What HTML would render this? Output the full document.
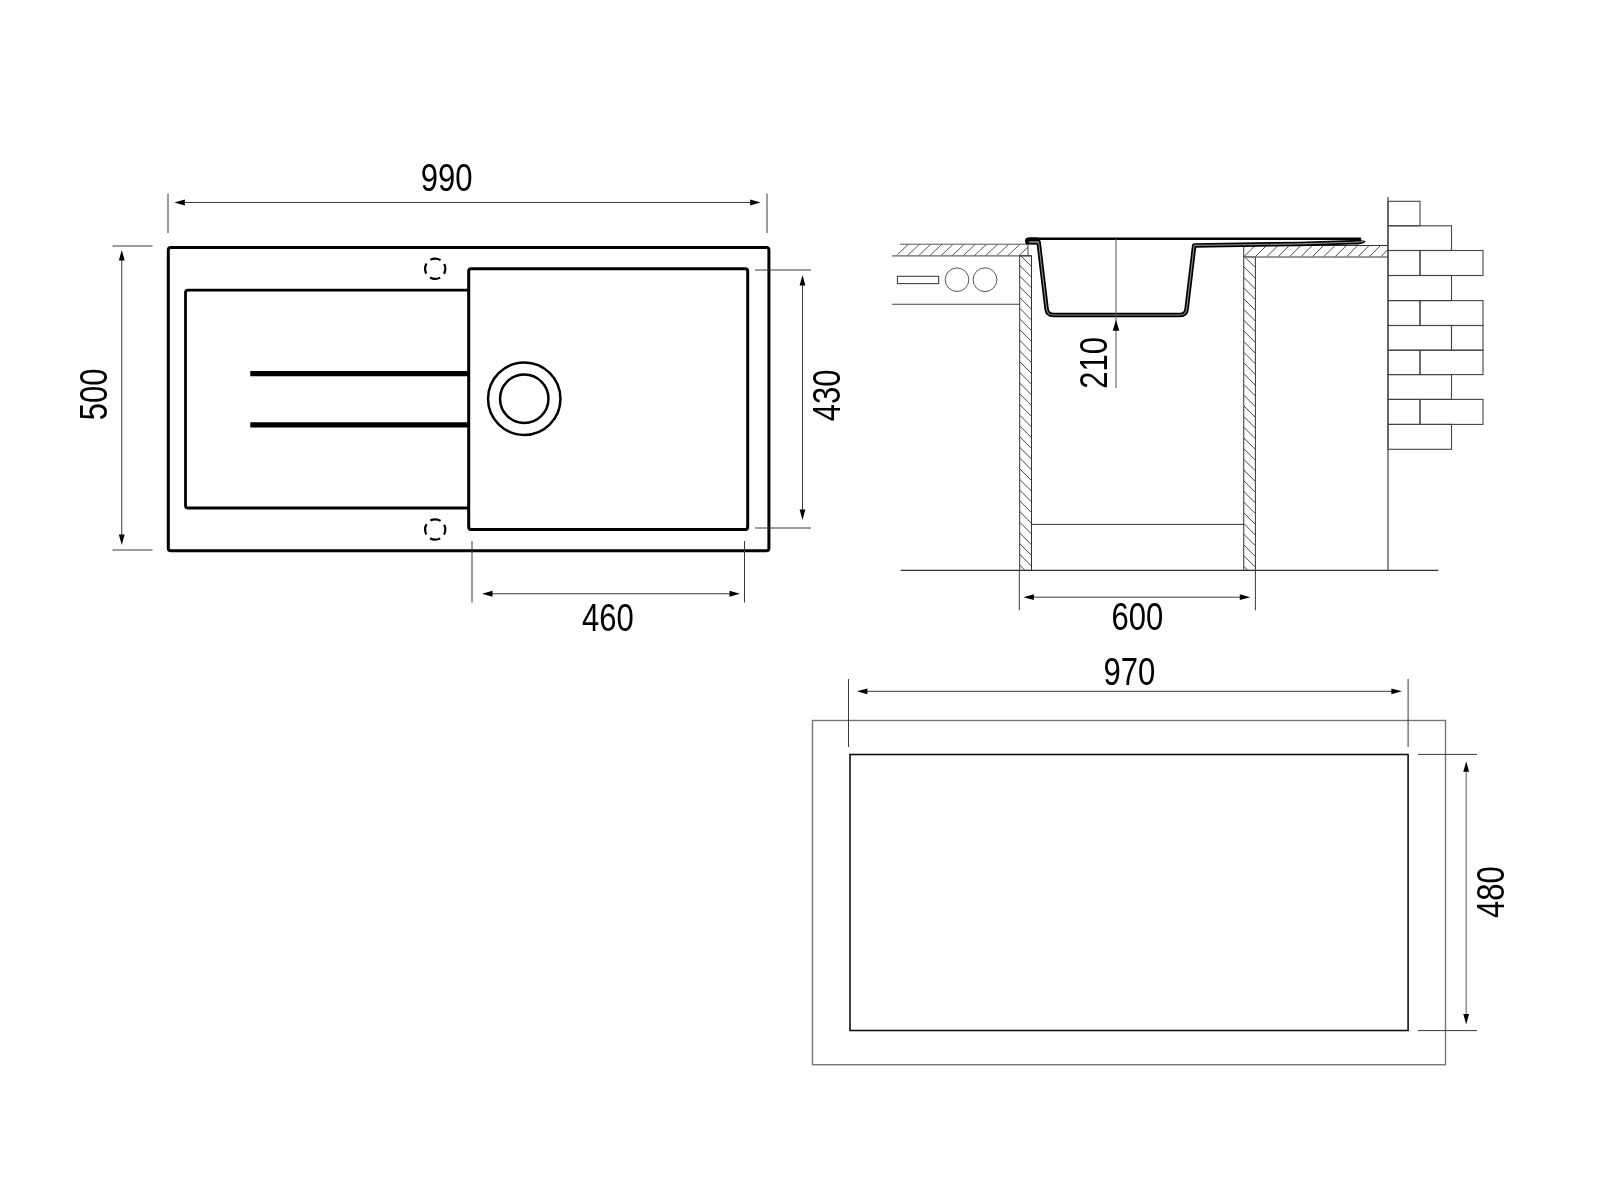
<!DOCTYPE html>
<html><head><meta charset="utf-8"><style>
html,body{margin:0;padding:0;background:#fff;}
svg{display:block;will-change:transform;}
.t{font-family:"Liberation Sans",sans-serif;font-size:38.6px;fill:#000;}
</style></head><body>
<svg width="1600" height="1200" viewBox="0 0 1600 1200">
<rect width="1600" height="1200" fill="#fff"/>
<rect x="168.3" y="247.6" width="600.6" height="303.1" rx="2.5" fill="none" stroke="#000" stroke-width="3"/>
<path d="M468.7,290.1 H188 Q185.5,290.1 185.5,292.6 V505.5 Q185.5,508 188,508 H468.7" fill="none" stroke="#000" stroke-width="2.8"/>
<rect x="468.7" y="268.8" width="279" height="260.8" rx="2.5" fill="none" stroke="#000" stroke-width="3"/>
<line x1="250.3" y1="373.6" x2="468" y2="373.6" stroke="#000" stroke-width="5.2"/>
<line x1="250.3" y1="424.9" x2="468" y2="424.9" stroke="#000" stroke-width="5.2"/>
<circle cx="524.25" cy="398.75" r="36.2" fill="none" stroke="#000" stroke-width="2.5"/>
<circle cx="524.25" cy="398.75" r="24.2" fill="none" stroke="#000" stroke-width="2.5"/>
<circle cx="435.2" cy="268.75" r="10.15" fill="none" stroke="#000" stroke-width="2.2" stroke-dasharray="10.629 5.315" stroke-dashoffset="5.315"/>
<circle cx="435.2" cy="529.5" r="10.15" fill="none" stroke="#000" stroke-width="2.2" stroke-dasharray="10.629 5.315" stroke-dashoffset="5.315"/>
<line x1="168" y1="193.5" x2="168" y2="233" stroke="#3a3a3a" stroke-width="1" />
<line x1="767" y1="193.5" x2="767" y2="233" stroke="#3a3a3a" stroke-width="1" />
<line x1="180" y1="202.5" x2="755" y2="202.5" stroke="#3a3a3a" stroke-width="1" />
<polygon points="174.40,202.50 184.90,199.60 184.90,205.40" fill="#000"/>
<polygon points="760.60,202.50 750.10,205.40 750.10,199.60" fill="#000"/>
<text transform="translate(446.6,191) scale(0.804,1)" text-anchor="middle" class="t">990</text>
<line x1="112.5" y1="246" x2="152.5" y2="246" stroke="#3a3a3a" stroke-width="1" />
<line x1="112.5" y1="550" x2="152.5" y2="550" stroke="#3a3a3a" stroke-width="1" />
<line x1="121.75" y1="258" x2="121.75" y2="537" stroke="#3a3a3a" stroke-width="1" />
<polygon points="121.75,250.00 124.65,260.50 118.85,260.50" fill="#000"/>
<polygon points="121.75,545.00 118.85,534.50 124.65,534.50" fill="#000"/>
<text transform="translate(106.7,394.4) rotate(-90) scale(0.804,1)" text-anchor="middle" class="t">500</text>
<line x1="755" y1="270" x2="811" y2="270" stroke="#3a3a3a" stroke-width="1" />
<line x1="755" y1="528" x2="811" y2="528" stroke="#3a3a3a" stroke-width="1" />
<line x1="802.5" y1="283" x2="802.5" y2="512" stroke="#3a3a3a" stroke-width="1" />
<polygon points="802.50,275.00 805.40,285.50 799.60,285.50" fill="#000"/>
<polygon points="802.50,520.00 799.60,509.50 805.40,509.50" fill="#000"/>
<text transform="translate(839.65,395.4) rotate(-90) scale(0.804,1)" text-anchor="middle" class="t">430</text>
<line x1="472" y1="541" x2="472" y2="602.5" stroke="#3a3a3a" stroke-width="1" />
<line x1="744.5" y1="541" x2="744.5" y2="602.5" stroke="#3a3a3a" stroke-width="1" />
<line x1="490" y1="593.75" x2="732" y2="593.75" stroke="#3a3a3a" stroke-width="1" />
<polygon points="482.00,593.75 492.50,590.85 492.50,596.65" fill="#000"/>
<polygon points="740.00,593.75 729.50,596.65 729.50,590.85" fill="#000"/>
<text transform="translate(608,631.25) scale(0.804,1)" text-anchor="middle" class="t">460</text>
<clipPath id="c33"><rect x="897.4" y="244.2" width="130.60000000000002" height="11.600000000000023"/></clipPath>
<path d="M851.54,255.8 L863.95,244.2 M862.69,255.8 L875.10,244.2 M873.84,255.8 L886.25,244.2 M884.99,255.8 L897.40,244.2 M896.14,255.8 L908.55,244.2 M907.29,255.8 L919.70,244.2 M918.44,255.8 L930.85,244.2 M929.59,255.8 L942.00,244.2 M940.74,255.8 L953.15,244.2 M951.89,255.8 L964.30,244.2 M963.04,255.8 L975.45,244.2 M974.19,255.8 L986.60,244.2 M985.34,255.8 L997.75,244.2 M996.49,255.8 L1008.90,244.2 M1007.64,255.8 L1020.05,244.2 M1018.79,255.8 L1031.20,244.2" stroke="#444" stroke-width="0.9" fill="none" clip-path="url(#c33)"/>
<line x1="900" y1="244.2" x2="1028" y2="244.2" stroke="#555" stroke-width="1.0" />
<line x1="892" y1="255.8" x2="1031.5" y2="255.8" stroke="#666" stroke-width="1.3" />
<line x1="1028" y1="244.2" x2="1028" y2="255.8" stroke="#333" stroke-width="0.9" />
<clipPath id="c38"><rect x="1019.7" y="255.8" width="11.799999999999955" height="314.59999999999997"/></clipPath>
<path d="M1019.7,211.90 L1031.5,223.70 M1019.7,222.60 L1031.5,234.40 M1019.7,233.30 L1031.5,245.10 M1019.7,244.00 L1031.5,255.80 M1019.7,254.70 L1031.5,266.50 M1019.7,265.40 L1031.5,277.20 M1019.7,276.10 L1031.5,287.90 M1019.7,286.80 L1031.5,298.60 M1019.7,297.50 L1031.5,309.30 M1019.7,308.20 L1031.5,320.00 M1019.7,318.90 L1031.5,330.70 M1019.7,329.60 L1031.5,341.40 M1019.7,340.30 L1031.5,352.10 M1019.7,351.00 L1031.5,362.80 M1019.7,361.70 L1031.5,373.50 M1019.7,372.40 L1031.5,384.20 M1019.7,383.10 L1031.5,394.90 M1019.7,393.80 L1031.5,405.60 M1019.7,404.50 L1031.5,416.30 M1019.7,415.20 L1031.5,427.00 M1019.7,425.90 L1031.5,437.70 M1019.7,436.60 L1031.5,448.40 M1019.7,447.30 L1031.5,459.10 M1019.7,458.00 L1031.5,469.80 M1019.7,468.70 L1031.5,480.50 M1019.7,479.40 L1031.5,491.20 M1019.7,490.10 L1031.5,501.90 M1019.7,500.80 L1031.5,512.60 M1019.7,511.50 L1031.5,523.30 M1019.7,522.20 L1031.5,534.00 M1019.7,532.90 L1031.5,544.70 M1019.7,543.60 L1031.5,555.40 M1019.7,554.30 L1031.5,566.10 M1019.7,565.00 L1031.5,576.80" stroke="#333" stroke-width="0.9" fill="none" clip-path="url(#c38)"/>
<rect x="1019.7" y="255.8" width="11.8" height="314.6" fill="none" stroke="#333" stroke-width="1"/>
<line x1="892" y1="304.25" x2="1019.7" y2="304.25" stroke="#444" stroke-width="1.2" />
<rect x="897.4" y="276.3" width="41.2" height="7.3" fill="none" stroke="#444" stroke-width="1.1"/>
<circle cx="957" cy="279.7" r="11.8" fill="none" stroke="#555" stroke-width="1"/>
<circle cx="985" cy="279.7" r="11.9" fill="none" stroke="#555" stroke-width="1"/>
<line x1="900.6" y1="570.4" x2="1438.4" y2="570.4" stroke="#333" stroke-width="1.1" />
<line x1="1031.5" y1="524.4" x2="1243.75" y2="524.4" stroke="#333" stroke-width="1" />
<clipPath id="c47"><rect x="1243.75" y="256.9" width="11.650000000000091" height="313.5"/></clipPath>
<path d="M1243.75,213.15 L1255.4,224.80 M1243.75,223.85 L1255.4,235.50 M1243.75,234.55 L1255.4,246.20 M1243.75,245.25 L1255.4,256.90 M1243.75,255.95 L1255.4,267.60 M1243.75,266.65 L1255.4,278.30 M1243.75,277.35 L1255.4,289.00 M1243.75,288.05 L1255.4,299.70 M1243.75,298.75 L1255.4,310.40 M1243.75,309.45 L1255.4,321.10 M1243.75,320.15 L1255.4,331.80 M1243.75,330.85 L1255.4,342.50 M1243.75,341.55 L1255.4,353.20 M1243.75,352.25 L1255.4,363.90 M1243.75,362.95 L1255.4,374.60 M1243.75,373.65 L1255.4,385.30 M1243.75,384.35 L1255.4,396.00 M1243.75,395.05 L1255.4,406.70 M1243.75,405.75 L1255.4,417.40 M1243.75,416.45 L1255.4,428.10 M1243.75,427.15 L1255.4,438.80 M1243.75,437.85 L1255.4,449.50 M1243.75,448.55 L1255.4,460.20 M1243.75,459.25 L1255.4,470.90 M1243.75,469.95 L1255.4,481.60 M1243.75,480.65 L1255.4,492.30 M1243.75,491.35 L1255.4,503.00 M1243.75,502.05 L1255.4,513.70 M1243.75,512.75 L1255.4,524.40 M1243.75,523.45 L1255.4,535.10 M1243.75,534.15 L1255.4,545.80 M1243.75,544.85 L1255.4,556.50 M1243.75,555.55 L1255.4,567.20 M1243.75,566.25 L1255.4,577.90" stroke="#333" stroke-width="0.9" fill="none" clip-path="url(#c47)"/>
<rect x="1243.75" y="256.9" width="11.65" height="313.5" fill="none" stroke="#333" stroke-width="1"/>
<clipPath id="c50"><rect x="1243.75" y="245.5" width="144.25" height="11.399999999999977"/></clipPath>
<path d="M1198.15,256.9 L1209.55,245.5 M1209.55,256.9 L1220.95,245.5 M1220.95,256.9 L1232.35,245.5 M1232.35,256.9 L1243.75,245.5 M1243.75,256.9 L1255.15,245.5 M1255.15,256.9 L1266.55,245.5 M1266.55,256.9 L1277.95,245.5 M1277.95,256.9 L1289.35,245.5 M1289.35,256.9 L1300.75,245.5 M1300.75,256.9 L1312.15,245.5 M1312.15,256.9 L1323.55,245.5 M1323.55,256.9 L1334.95,245.5 M1334.95,256.9 L1346.35,245.5 M1346.35,256.9 L1357.75,245.5 M1357.75,256.9 L1369.15,245.5 M1369.15,256.9 L1380.55,245.5 M1380.55,256.9 L1391.95,245.5" stroke="#333" stroke-width="0.9" fill="none" clip-path="url(#c50)"/>
<line x1="1243.75" y1="245.5" x2="1388" y2="245.5" stroke="#333" stroke-width="1" />
<line x1="1243.75" y1="256.9" x2="1388" y2="256.9" stroke="#777" stroke-width="1.5" />
<line x1="1243.75" y1="245.5" x2="1243.75" y2="256.9" stroke="#333" stroke-width="1" />
<line x1="1388" y1="197" x2="1388" y2="570.4" stroke="#444" stroke-width="1.2" />
<rect x="1388" y="201.3" width="32" height="24.5" fill="none" stroke="#444" stroke-width="1.1"/>
<rect x="1388" y="225.8" width="63.5" height="24.69999999999999" fill="none" stroke="#444" stroke-width="1.1"/>
<rect x="1388" y="250.5" width="32" height="25.0" fill="none" stroke="#444" stroke-width="1.1"/>
<rect x="1420" y="250.5" width="63" height="25.0" fill="none" stroke="#444" stroke-width="1.1"/>
<rect x="1388" y="275.5" width="63.5" height="25.100000000000023" fill="none" stroke="#444" stroke-width="1.1"/>
<rect x="1388" y="300.6" width="32" height="24.899999999999977" fill="none" stroke="#444" stroke-width="1.1"/>
<rect x="1420" y="300.6" width="63" height="24.899999999999977" fill="none" stroke="#444" stroke-width="1.1"/>
<rect x="1388" y="325.5" width="63.5" height="24.69999999999999" fill="none" stroke="#444" stroke-width="1.1"/>
<rect x="1451.5" y="325.5" width="31.5" height="24.69999999999999" fill="none" stroke="#444" stroke-width="1.1"/>
<rect x="1388" y="350.2" width="32" height="24.400000000000034" fill="none" stroke="#444" stroke-width="1.1"/>
<rect x="1420" y="350.2" width="63" height="24.400000000000034" fill="none" stroke="#444" stroke-width="1.1"/>
<rect x="1388" y="374.6" width="63.5" height="24.799999999999955" fill="none" stroke="#444" stroke-width="1.1"/>
<rect x="1388" y="399.4" width="32" height="25.0" fill="none" stroke="#444" stroke-width="1.1"/>
<rect x="1420" y="399.4" width="63" height="25.0" fill="none" stroke="#444" stroke-width="1.1"/>
<rect x="1388" y="424.4" width="63.5" height="24.900000000000034" fill="none" stroke="#444" stroke-width="1.1"/>
<rect x="1025.1" y="237.5" width="14.5" height="7.1" rx="3.2" fill="#000"/>
<path d="M1030,242.1 L1038.6,242.1 L1046.6,309 Q1047.3,315 1053.5,315 L1180,315 Q1186,315 1186.6,309 L1194.2,245.4 L1300,243.9 L1352,242.3 Q1363.2,242.2 1363.4,240.6" fill="none" stroke="#000" stroke-width="4.5" stroke-linejoin="round"/>
<path d="M1030,242.1 L1038.6,242.1 L1046.6,309 Q1047.3,315 1053.5,315 L1180,315 Q1186,315 1186.6,309 L1194.2,245.4 L1300,243.9 L1352,242.3 Q1363.2,242.2 1363.4,240.6" fill="none" stroke="#8c8c8c" stroke-width="1.1" stroke-linejoin="round"/>
<path d="M1028.4,241.9 Q1027.8,242.1 1038.6,242.1" fill="none" stroke="#8c8c8c" stroke-width="1.1"/>
<path d="M1030,238.75 H1360" stroke="#000" stroke-width="2.5" stroke-linecap="round"/>
<line x1="1116" y1="238.7" x2="1116" y2="388" stroke="#555" stroke-width="1" />
<polygon points="1116.00,319.75 1119.30,330.75 1112.70,330.75" fill="#000"/>
<text transform="translate(1107.1,362.9) rotate(-90) scale(0.804,1)" text-anchor="middle" class="t">210</text>
<line x1="1019.3" y1="570.4" x2="1019.3" y2="610.3" stroke="#3a3a3a" stroke-width="1" />
<line x1="1255.4" y1="570.4" x2="1255.4" y2="610.3" stroke="#3a3a3a" stroke-width="1" />
<line x1="1030" y1="597.2" x2="1244" y2="597.2" stroke="#3a3a3a" stroke-width="1" />
<polygon points="1023.40,597.20 1033.90,594.30 1033.90,600.10" fill="#000"/>
<polygon points="1250.30,597.20 1239.80,600.10 1239.80,594.30" fill="#000"/>
<text transform="translate(1137.4,630) scale(0.804,1)" text-anchor="middle" class="t">600</text>
<rect x="812.5" y="720.5" width="633" height="344.2" fill="none" stroke="#777" stroke-width="1.4"/>
<rect x="850" y="754.5" width="558.1" height="276" fill="none" stroke="#111" stroke-width="1.6"/>
<line x1="848.5" y1="679" x2="848.5" y2="747" stroke="#3a3a3a" stroke-width="1" />
<line x1="1408.1" y1="679" x2="1408.1" y2="747" stroke="#3a3a3a" stroke-width="1" />
<line x1="865" y1="691.3" x2="1395" y2="691.3" stroke="#3a3a3a" stroke-width="1" />
<polygon points="856.90,691.30 867.40,688.40 867.40,694.20" fill="#000"/>
<polygon points="1401.90,691.30 1391.40,694.20 1391.40,688.40" fill="#000"/>
<text transform="translate(1129.4,684.5) scale(0.804,1)" text-anchor="middle" class="t">970</text>
<line x1="1418" y1="754.4" x2="1477" y2="754.4" stroke="#3a3a3a" stroke-width="1" />
<line x1="1418" y1="1030.6" x2="1477" y2="1030.6" stroke="#3a3a3a" stroke-width="1" />
<line x1="1466.2" y1="768" x2="1466.2" y2="1017" stroke="#777" stroke-width="1.2" />
<polygon points="1466.20,761.25 1469.10,771.75 1463.30,771.75" fill="#000"/>
<polygon points="1466.20,1024.40 1463.30,1013.90 1469.10,1013.90" fill="#000"/>
<text transform="translate(1503.75,892.1) rotate(-90) scale(0.804,1)" text-anchor="middle" class="t">480</text>
</svg>
</body></html>
